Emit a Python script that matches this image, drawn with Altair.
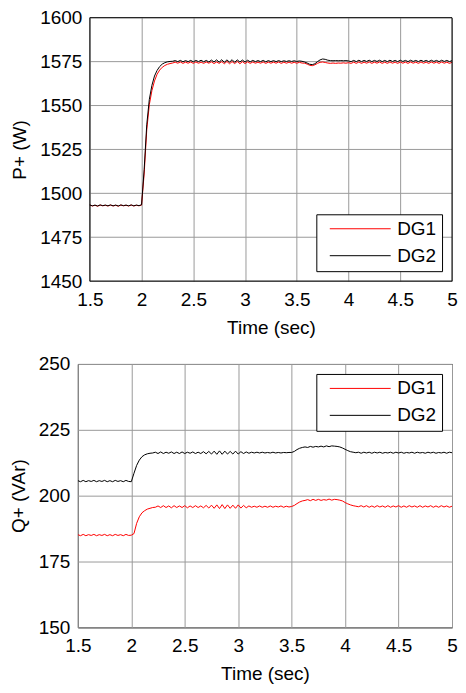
import altair as alt
import pandas as pd

time = [round(1.5 + 0.025 * i, 3) for i in range(141)]

p_dg1 = [
    1493.3, 1492.8, 1493.2, 1492.7, 1493.3, 1492.9, 1493.2, 1492.8, 1493.3, 1492.8,
    1493.2, 1492.7, 1493.3, 1492.9, 1493.2, 1492.8, 1493.3, 1492.8, 1493.2, 1492.9,
    1493.3, 1511.0, 1536.0, 1550.5, 1558.5, 1564.0, 1567.8, 1570.2, 1571.8, 1572.8,
    1573.5, 1573.9, 1574.2, 1574.7, 1574.1, 1574.8, 1574.0, 1574.7, 1574.1, 1574.8,
    1574.0, 1574.8, 1574.1, 1574.7, 1574.0, 1574.8, 1574.1, 1574.9, 1573.9, 1574.8,
    1574.0, 1575.0, 1573.8, 1575.1, 1573.8, 1575.0, 1573.9, 1575.1, 1573.8, 1575.0,
    1573.9, 1574.9, 1574.0, 1574.8, 1574.1, 1574.7, 1574.1, 1574.8, 1574.0, 1574.7,
    1574.1, 1574.7, 1574.1, 1574.8, 1574.0, 1574.7, 1574.1, 1574.7, 1574.1, 1574.6,
    1574.1, 1574.6, 1574.2, 1574.1, 1573.6, 1572.9, 1572.7, 1573.2, 1574.0, 1574.6,
    1574.8, 1574.5, 1574.2, 1574.0, 1574.2, 1574.0, 1574.2, 1574.1, 1574.3, 1574.1,
    1574.4, 1574.0, 1574.7, 1574.0, 1574.8, 1574.0, 1574.7, 1574.1, 1574.8, 1574.0,
    1574.7, 1574.1, 1574.8, 1574.0, 1574.7, 1574.0, 1574.8, 1574.1, 1574.7, 1574.0,
    1574.8, 1574.1, 1574.7, 1574.0, 1574.8, 1574.1, 1574.7, 1574.0, 1574.8, 1574.1,
    1574.7, 1574.0, 1574.8, 1574.1, 1574.7, 1574.0, 1574.8, 1574.1, 1574.7, 1574.0, 1574.6,
]

p_dg2 = [
    1493.4, 1492.9, 1493.3, 1492.8, 1493.4, 1493.0, 1493.3, 1492.9, 1493.4, 1492.9,
    1493.3, 1492.8, 1493.4, 1493.0, 1493.3, 1492.9, 1493.4, 1492.9, 1493.3, 1493.0,
    1493.5, 1513.5, 1539.0, 1553.5, 1561.5, 1566.8, 1570.0, 1572.2, 1573.6, 1574.4,
    1574.9, 1575.1, 1575.2, 1575.6, 1575.0, 1575.7, 1574.9, 1575.6, 1575.0, 1575.7,
    1574.9, 1575.7, 1575.0, 1575.8, 1574.9, 1575.7, 1574.8, 1575.9, 1574.8, 1576.0,
    1574.7, 1576.1, 1574.6, 1576.0, 1574.7, 1576.1, 1574.6, 1576.0, 1574.8, 1575.9,
    1574.8, 1575.8, 1574.9, 1575.7, 1575.0, 1575.6, 1575.0, 1575.7, 1574.9, 1575.6,
    1575.0, 1575.6, 1575.0, 1575.6, 1575.0, 1575.5, 1575.1, 1575.5, 1575.1, 1575.5,
    1575.1, 1575.4, 1575.2, 1574.8, 1574.2, 1573.5, 1573.3, 1573.8, 1575.0, 1576.0,
    1576.5, 1576.3, 1575.8, 1575.6, 1575.5, 1575.6, 1575.5, 1575.6, 1575.5, 1575.6,
    1575.4, 1575.0, 1575.7, 1575.0, 1575.8, 1575.0, 1575.7, 1575.1, 1575.8, 1575.0,
    1575.7, 1575.1, 1575.8, 1575.0, 1575.7, 1575.0, 1575.8, 1575.1, 1575.7, 1575.0,
    1575.8, 1575.1, 1575.7, 1575.0, 1575.8, 1575.1, 1575.7, 1575.0, 1575.8, 1575.1,
    1575.7, 1575.0, 1575.8, 1575.1, 1575.7, 1575.0, 1575.8, 1575.1, 1575.7, 1575.0, 1575.6,
]

q_dg1 = [
    185.2, 184.8, 185.3, 184.8, 185.2, 184.9, 185.3, 184.8, 185.2, 184.9,
    185.3, 184.8, 185.2, 184.8, 185.3, 184.9, 185.2, 184.8, 185.3, 184.9,
    185.0, 185.6, 189.5, 192.0, 193.5, 194.3, 194.9, 195.2, 195.5, 195.6,
    196.1, 195.5, 196.2, 195.5, 196.1, 195.4, 196.2, 195.5, 196.1, 195.5,
    196.2, 195.4, 196.1, 195.5, 196.2, 195.5, 196.1, 195.4, 196.3, 195.3,
    196.4, 195.2, 196.5, 195.1, 196.6, 195.1, 196.5, 195.2, 196.4, 195.2,
    196.5, 195.3, 196.3, 195.4, 196.1, 195.6, 196.0, 195.6, 196.1, 195.6,
    196.0, 195.6, 196.1, 195.6, 196.0, 195.7, 196.1, 195.6, 196.0, 195.7,
    195.9, 196.3, 197.0, 197.6, 198.0, 198.2, 198.5, 198.1, 198.6, 198.2,
    198.6, 198.2, 198.5, 198.3, 198.7, 198.3, 198.6, 198.5, 198.3, 198.0,
    197.4, 196.9, 196.5, 196.2, 196.0, 195.8, 196.2, 195.7, 196.2, 195.6,
    196.1, 195.6, 196.2, 195.7, 196.1, 195.6, 196.2, 195.6, 196.1, 195.7,
    196.2, 195.6, 196.1, 195.6, 196.2, 195.7, 196.1, 195.6, 196.2, 195.6,
    196.1, 195.7, 196.2, 195.6, 196.1, 195.6, 196.2, 195.7, 196.1, 195.6, 196.0,
]

q_dg2 = [
    205.7, 205.3, 205.8, 205.3, 205.7, 205.4, 205.8, 205.3, 205.7, 205.4,
    205.8, 205.3, 205.7, 205.3, 205.8, 205.4, 205.7, 205.3, 205.8, 205.4,
    205.3, 208.5, 211.5, 213.5, 214.8, 215.5, 215.9, 216.1, 216.2, 216.5,
    216.0, 216.6, 216.0, 216.5, 216.1, 216.6, 216.0, 216.5, 216.0, 216.6,
    216.0, 216.5, 216.1, 216.6, 216.0, 216.5, 216.0, 216.7, 215.9, 216.8,
    215.8, 216.9, 215.7, 217.0, 215.7, 216.9, 215.8, 216.8, 215.8, 216.9,
    215.8, 216.7, 216.0, 216.6, 216.1, 216.5, 216.2, 216.5, 216.2, 216.5,
    216.2, 216.4, 216.2, 216.5, 216.2, 216.4, 216.2, 216.4, 216.3, 216.4,
    216.4, 216.8, 217.5, 218.0, 218.3, 218.5, 218.3, 218.7, 218.4, 218.7,
    218.5, 218.8, 218.5, 218.9, 218.6, 218.9, 218.8, 218.7, 218.5, 218.1,
    217.6, 217.1, 216.7, 216.5, 216.3, 216.5, 216.1, 216.5, 216.2, 216.5,
    216.1, 216.5, 216.2, 216.5, 216.1, 216.4, 216.2, 216.5, 216.1, 216.5,
    216.2, 216.5, 216.1, 216.4, 216.2, 216.5, 216.1, 216.5, 216.2, 216.4,
    216.1, 216.5, 216.2, 216.5, 216.1, 216.4, 216.2, 216.5, 216.1, 216.5, 216.3,
]

series_names = ["DG1", "DG2"]
series_colors = ["#ff0000", "#000000"]
x_ticks = [1.5, 2, 2.5, 3, 3.5, 4, 4.5, 5]
p_ticks = [1450, 1475, 1500, 1525, 1550, 1575, 1600]
q_ticks = [150, 175, 200, 225, 250]

FONT = "Liberation Sans"
VIEW_W = 375
PANEL_H = 264
TOP_SHIFT = 12  # top panel's plot area starts further right than the bottom one
GRID = "#9a9a9a"


def long_df(a, b):
    return pd.DataFrame({
        "t": time + time,
        "v": a + b,
        "s": [series_names[0]] * len(a) + [series_names[1]] * len(b),
    })


def legend(orient):
    # long horizontal stroke symbol, drawn as a custom path
    return alt.Legend(title=None, orient=orient, offset=10,
                      symbolType="M-0.11,0H6.67", symbolSize=324,
                      symbolStrokeWidth=1, labelFontSize=19,
                      labelFont=FONT, labelColor="black",
                      strokeColor="black", fillColor="white",
                      padding=5, rowPadding=7, labelOffset=57)


x_axis_common = dict(values=x_ticks, format="~g", labelPadding=9,
                     titlePadding=9, labelFlush=False)

# ---------- top panel ----------
top_plot_w = VIEW_W - TOP_SHIFT
top_x_min = x_ticks[0] - TOP_SHIFT / top_plot_w * (x_ticks[-1] - x_ticks[0])
top_x_scale = alt.Scale(domain=[top_x_min, x_ticks[-1]], nice=False, zero=False)
top_y_scale = alt.Scale(domain=[p_ticks[0], p_ticks[-1]], nice=False, zero=False)

top_lines = alt.Chart(long_df(p_dg1, p_dg2)).mark_line(strokeWidth=1, clip=True).encode(
    x=alt.X("t:Q", title="Time (sec)", scale=top_x_scale,
            axis=alt.Axis(titleX=TOP_SHIFT + top_plot_w / 2, **x_axis_common)),
    y=alt.Y("v:Q", title="P+ (W)", scale=top_y_scale,
            axis=alt.Axis(values=p_ticks, format="d", labelPadding=8,
                          titlePadding=10, grid=False, offset=-TOP_SHIFT)),
    color=alt.Color("s:N", scale=alt.Scale(domain=series_names, range=series_colors),
                    legend=legend("bottom-right")),
    order=alt.Order("s:N"),
)

top_grid = alt.Chart(pd.DataFrame({"g": p_ticks})).mark_rule(
    color=GRID, strokeWidth=1
).encode(
    y=alt.Y("g:Q", scale=top_y_scale),
    x=alt.datum(x_ticks[0]),
    x2=alt.datum(x_ticks[-1]),
)

top_frame = alt.Chart(pd.DataFrame({"k": [0]})).mark_rect(
    filled=False, stroke="black", strokeWidth=1
).encode(
    x=alt.datum(x_ticks[0]), x2=alt.datum(x_ticks[-1]),
    y=alt.datum(p_ticks[0]), y2=alt.datum(p_ticks[-1]),
)

top = alt.layer(top_grid, top_lines, top_frame).properties(
    width=VIEW_W, height=PANEL_H,
    view=alt.ViewBackground(strokeOpacity=0),
)

# ---------- bottom panel ----------
bottom = alt.Chart(long_df(q_dg1, q_dg2)).mark_line(strokeWidth=1, clip=True).encode(
    x=alt.X("t:Q", title="Time (sec)",
            scale=alt.Scale(domain=[x_ticks[0], x_ticks[-1]], nice=False, zero=False),
            axis=alt.Axis(**x_axis_common)),
    y=alt.Y("v:Q", title="Q+ (VAr)",
            scale=alt.Scale(domain=[q_ticks[0], q_ticks[-1]], nice=False, zero=False),
            axis=alt.Axis(values=q_ticks, format="d", labelPadding=8, titlePadding=10)),
    color=alt.Color("s:N", scale=alt.Scale(domain=series_names, range=series_colors),
                    legend=legend("top-right")),
    order=alt.Order("s:N"),
).properties(width=VIEW_W, height=PANEL_H)

chart = alt.vconcat(top, bottom, spacing=17).resolve_scale(
    x="independent", y="independent", color="independent"
).resolve_legend(color="independent").properties(
    padding={"left": 0, "top": 0, "right": 0, "bottom": 0},
    background="white",
).configure_axis(
    labelFont=FONT, titleFont=FONT, labelFontSize=19, titleFontSize=19,
    titleFontWeight="normal", labelColor="black", titleColor="black",
    grid=True, gridColor=GRID, gridOpacity=1, gridWidth=1,
    ticks=False, tickSize=0, domain=False,
).configure_view(
    stroke="#000000", strokeWidth=1,
)

chart.save("out.html", embed_options={"renderer": "svg", "actions": False})
